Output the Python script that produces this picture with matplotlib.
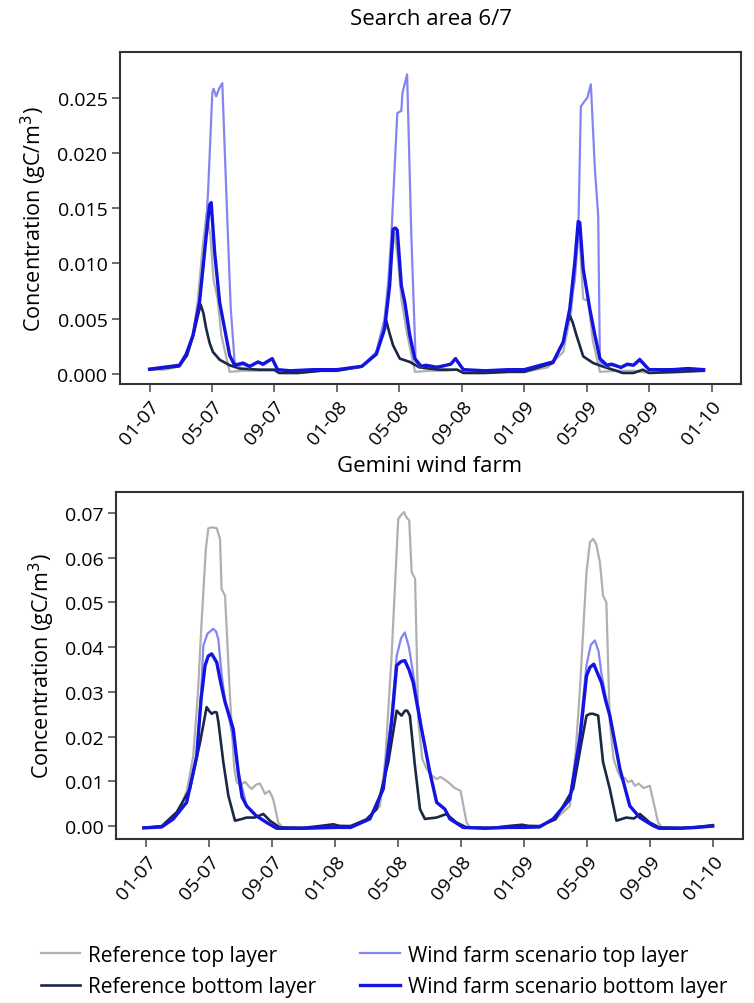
import numpy as np
import matplotlib
matplotlib.use("Agg")
import matplotlib.pyplot as plt

plt.rcParams['font.family'] = ['Open Sans', 'DejaVu Sans']

# x positions are months since Jan 2007
tick_months = [0, 4, 8, 12, 16, 20, 24, 28, 32, 36]
tick_labels = ['01-07', '05-07', '09-07', '01-08', '05-08', '09-08',
               '01-09', '05-09', '09-09', '01-10']

labels = ['Reference top layer', 'Reference bottom layer',
          'Wind farm scenario top layer', 'Wind farm scenario bottom layer']

# ---- Search area 6/7 ----
sa_ref_top_m = [0, 1.0, 1.9, 2.4, 2.8, 3.1, 3.4, 3.65, 3.9, 4.1, 4.36, 4.6, 5.13, 6.0, 7.0, 8.0, 8.3, 9.5, 11.0,
                12.0, 13.5, 14.5, 15.0, 15.3, 15.5, 15.7, 15.9, 16.13, 16.45, 17.0, 18.0, 19.0, 19.7, 20.2, 21.5, 23.0,
                24.0, 25.5, 26.5, 27.0, 27.25, 27.46, 27.6, 27.78, 28.1, 28.4, 28.85, 30.0, 31.0, 32.0, 33.5, 35.5]
sa_ref_top_v = [0.0004, 0.0004, 0.0007, 0.0017, 0.0036, 0.0068, 0.0115, 0.0145, 0.0125, 0.0085, 0.0068, 0.0035, 0.0002, 0.0003, 0.0003, 0.0003, 0.0001, 0.0001, 0.0003,
                0.0003, 0.0006, 0.0018, 0.0045, 0.0075, 0.0105, 0.0128, 0.0105, 0.0068, 0.004, 0.0002, 0.0003, 0.0003, 0.0004, 0.0001, 0.0001, 0.0002,
                0.0002, 0.0006, 0.002, 0.0055, 0.0095, 0.0134, 0.011, 0.0068, 0.0066, 0.003, 0.0002, 0.0003, 0.0003, 0.0001, 0.0001, 0.0003]

sa_ref_bot_m = [0, 1.9, 2.4, 2.8, 3.05, 3.27, 3.45, 3.63, 3.85, 4.06, 4.49, 5.13, 5.77, 7.0, 8.0, 8.3, 9.5, 11.0,
                12.0, 13.6, 14.5, 14.9, 15.17, 15.35, 15.6, 16.03, 16.67, 17.3, 18.5, 19.7, 20.1, 21.5, 23.0,
                24.0, 25.85, 26.5, 26.75, 26.92, 27.1, 27.35, 27.78, 28.42, 29.0, 29.9, 30.3, 31.0, 31.6, 32.0, 33.5, 35.5]
sa_ref_bot_v = [0.0004, 0.0007, 0.0017, 0.0035, 0.005, 0.0063, 0.0055, 0.0041, 0.0028, 0.002, 0.0013, 0.0008, 0.0005, 0.0004, 0.0004, 0.0001, 0.0001, 0.0003,
                0.0003, 0.0007, 0.0018, 0.0035, 0.0048, 0.0038, 0.0026, 0.0014, 0.0011, 0.0006, 0.0004, 0.0004, 0.0001, 0.0001, 0.0002,
                0.0002, 0.001, 0.0029, 0.0045, 0.0053, 0.0047, 0.0035, 0.0016, 0.001, 0.0007, 0.0003, 0.0001, 0.0001, 0.0004, 0.0001, 0.0002, 0.0003]

sa_wf_top_m = [0, 1.92, 2.35, 2.78, 3.2, 3.5, 3.75, 4.02, 4.1, 4.27, 4.45, 4.66, 4.85, 5.02, 5.2, 5.45, 5.7, 5.98, 6.41, 6.95, 7.26, 7.5, 7.86, 8.2, 9.0, 10.5, 11.5,
               12.0, 13.6, 14.53, 15.06, 15.3, 15.49, 15.87, 16.13, 16.2, 16.5, 16.77, 17.05, 17.4, 17.7, 18.4, 19.0, 19.3, 19.6, 20.1, 21.5, 23.0,
               24.0, 25.85, 26.5, 26.9, 27.24, 27.46, 27.63, 27.88, 28.05, 28.27, 28.53, 28.74, 28.85, 29.3, 29.6, 30.2, 30.6, 31.0, 31.4, 32.0, 33.5, 34.5, 35.5]
sa_wf_top_v = [0.00045, 0.0008, 0.0018, 0.0035, 0.0065, 0.0105, 0.0165, 0.0254, 0.0258, 0.0251, 0.0258, 0.0263, 0.019, 0.0125, 0.006, 0.0011, 0.0007, 0.0009, 0.0006, 0.0011, 0.0008, 0.001, 0.0014, 0.0004, 0.0003, 0.0004, 0.0004,
               0.0004, 0.0007, 0.002, 0.005, 0.0085, 0.0125, 0.0236, 0.0238, 0.0254, 0.0271, 0.0125, 0.0011, 0.0006, 0.0008, 0.0007, 0.0008, 0.0009, 0.0014, 0.0004, 0.0003, 0.0004,
               0.0004, 0.0011, 0.0029, 0.0055, 0.0085, 0.0125, 0.0242, 0.0247, 0.025, 0.0262, 0.0185, 0.0143, 0.0011, 0.0007, 0.0008, 0.0006, 0.0008, 0.0008, 0.0014, 0.0004, 0.0004, 0.0005, 0.0004]

sa_wf_bot_m = [0, 1.92, 2.35, 2.78, 3.2, 3.63, 3.85, 3.95, 4.17, 4.49, 4.81, 5.13, 5.45, 5.98, 6.41, 6.95, 7.26, 7.86, 8.2, 9.0, 10.5, 11.5,
               12.0, 13.6, 14.53, 15.06, 15.38, 15.6, 15.75, 15.87, 16.13, 16.35, 16.67, 16.99, 17.4, 17.7, 18.4, 19.0, 19.3, 19.6, 20.1, 21.5, 23.0,
               24.0, 25.85, 26.5, 26.92, 27.24, 27.46, 27.56, 27.78, 28.2, 28.53, 28.85, 29.3, 29.6, 30.2, 30.6, 31.0, 31.4, 32.0, 33.5, 34.5, 35.5]
sa_wf_bot_v = [0.00045, 0.0008, 0.0018, 0.0035, 0.0065, 0.0125, 0.0153, 0.0155, 0.011, 0.0065, 0.0041, 0.0017, 0.0008, 0.001, 0.0007, 0.0011, 0.0009, 0.0014, 0.0004, 0.0003, 0.0004, 0.0004,
               0.0004, 0.0007, 0.0018, 0.0041, 0.008, 0.0131, 0.0132, 0.013, 0.008, 0.0065, 0.0035, 0.0014, 0.0007, 0.0008, 0.0006, 0.0008, 0.0009, 0.0014, 0.0004, 0.0003, 0.0004,
               0.0004, 0.0011, 0.0029, 0.0059, 0.0101, 0.0138, 0.0137, 0.0095, 0.0059, 0.0035, 0.0014, 0.0008, 0.0009, 0.0006, 0.0009, 0.0008, 0.0013, 0.0004, 0.0004, 0.0005, 0.0004]

# ---- Gemini wind farm ----
gm_ref_top_m = [-0.15, 1.0, 2.16, 2.6, 3.0, 3.3, 3.53, 3.8, 3.96, 4.2, 4.49, 4.7, 4.8, 5.02, 5.33, 5.6, 5.76, 6.0, 6.29, 6.5, 6.71, 7.0, 7.24, 7.45, 7.56, 7.83, 8.08, 8.4, 8.7, 10.0, 11.0,
                12.0, 13.0, 14.0, 14.86, 15.2, 15.6, 16.02, 16.2, 16.38, 16.55, 16.72, 16.87, 17.09, 17.3, 17.55, 17.82, 18.1, 18.46, 18.7, 19.09, 19.3, 19.6, 19.98, 20.36, 20.6, 22.0, 23.0,
                24.0, 25.0, 26.0, 26.92, 27.3, 27.56, 27.98, 28.2, 28.4, 28.6, 28.83, 29.03, 29.24, 29.46, 29.7, 29.99, 30.2, 30.4, 30.62, 30.85, 31.05, 31.3, 31.6, 32.0, 32.53, 32.8, 34.0, 35.0, 36.0]
gm_ref_top_v = [-0.0004, 0.0, 0.0038, 0.008, 0.0157, 0.03, 0.0456, 0.062, 0.0666, 0.0668, 0.0666, 0.0642, 0.053, 0.0515, 0.0291, 0.013, 0.0098, 0.0092, 0.0099, 0.009, 0.0083, 0.0093, 0.0095, 0.008, 0.0072, 0.0079, 0.006, 0.0008, -0.0004, -0.0004, -0.0002,
                0.0002, 0.0, 0.0015, 0.0045, 0.015, 0.0381, 0.0687, 0.0695, 0.0702, 0.069, 0.0683, 0.0568, 0.0553, 0.0232, 0.015, 0.0128, 0.0115, 0.0105, 0.011, 0.0101, 0.0095, 0.0085, 0.0079, 0.0008, -0.0004, -0.0004, 0.0,
                0.0002, 0.0, 0.0015, 0.0045, 0.017, 0.0306, 0.0568, 0.0635, 0.0642, 0.063, 0.059, 0.0515, 0.05, 0.0232, 0.015, 0.012, 0.0105, 0.0108, 0.0098, 0.0102, 0.009, 0.0095, 0.0085, 0.009, 0.0008, -0.0004, -0.0004, -0.0002, 0.0]

gm_ref_bot_m = [-0.15, 1.0, 1.95, 2.79, 3.43, 3.85, 4.0, 4.17, 4.35, 4.49, 4.6, 4.91, 5.23, 5.65, 6.0, 6.39, 6.9, 7.45, 7.87, 8.5, 10.0, 11.0, 11.9,
                12.3, 13.0, 14.0, 14.65, 15.39, 15.92, 16.23, 16.45, 16.59, 16.76, 17.08, 17.4, 17.71, 18.45, 19.09, 19.72, 20.36, 22.0, 23.0, 23.9,
                24.3, 25.0, 26.0, 27.13, 27.66, 27.98, 28.2, 28.4, 28.72, 29.03, 29.46, 29.88, 30.5, 31.0, 31.37, 32.0, 32.6, 34.0, 35.0, 36.0]
gm_ref_bot_v = [-0.0004, 0.0, 0.0031, 0.0083, 0.0187, 0.0266, 0.0258, 0.0251, 0.0255, 0.0254, 0.0232, 0.0143, 0.0068, 0.0012, 0.0015, 0.0019, 0.0019, 0.0027, 0.0012, -0.0003, -0.0004, 0.0, 0.0004,
                0.0, 0.0, 0.0015, 0.0038, 0.0143, 0.0258, 0.0247, 0.0258, 0.0258, 0.0247, 0.0135, 0.0038, 0.0016, 0.0019, 0.0027, 0.0008, -0.0003, -0.0004, 0.0, 0.0003,
                0.0, 0.0, 0.0015, 0.0083, 0.0187, 0.0247, 0.0251, 0.0251, 0.0247, 0.0143, 0.0083, 0.0012, 0.0019, 0.0017, 0.0027, 0.0008, -0.0003, -0.0004, -0.0002, 0.0002]

gm_wf_top_m = [-0.15, 1.0, 1.73, 2.58, 3.22, 3.5, 3.64, 3.9, 4.27, 4.45, 4.59, 4.8, 5.02, 5.33, 5.6, 5.86, 6.39, 7.0, 7.66, 8.3, 10.0,
               12.0, 13.0, 14.22, 15.07, 15.6, 15.92, 16.2, 16.44, 16.7, 16.97, 17.5, 18.03, 18.46, 18.98, 19.3, 20.14, 21.5, 23.0,
               24.0, 25.0, 25.86, 26.92, 27.56, 27.98, 28.25, 28.51, 28.75, 28.93, 29.2, 29.46, 30.1, 30.73, 31.37, 32.2, 32.6, 34.0, 35.0, 36.0]
gm_wf_top_v = [-0.0004, -0.0002, 0.0016, 0.0053, 0.0157, 0.03, 0.0403, 0.043, 0.0441, 0.0435, 0.0418, 0.034, 0.028, 0.0232, 0.018, 0.012, 0.0045, 0.0023, 0.0008, -0.0005, -0.0005,
               -0.0003, -0.0003, 0.0016, 0.0083, 0.025, 0.038, 0.042, 0.0433, 0.04, 0.034, 0.022, 0.012, 0.0053, 0.0038, 0.0016, -0.0003, -0.0005, -0.0003,
               -0.0003, -0.0002, 0.0016, 0.006, 0.021, 0.036, 0.0405, 0.0415, 0.039, 0.034, 0.029, 0.025, 0.0128, 0.0045, 0.0019, 0.0001, -0.0005, -0.0005, -0.0003, 0.0]

gm_wf_bot_m = [-0.15, 1.0, 1.73, 2.58, 3.22, 3.5, 3.75, 3.95, 4.17, 4.49, 4.75, 5.02, 5.3, 5.54, 5.86, 6.1, 6.39, 7.0, 7.66, 8.3, 10.0,
               12.0, 13.0, 14.22, 15.07, 15.6, 15.92, 16.2, 16.44, 16.7, 16.97, 17.5, 18.03, 18.46, 18.98, 19.3, 20.14, 21.5, 23.0,
               24.0, 25.0, 25.86, 26.92, 27.56, 27.98, 28.2, 28.44, 28.7, 28.93, 29.2, 29.46, 30.1, 30.73, 31.37, 32.2, 32.6, 34.0, 35.0, 36.0]
gm_wf_bot_v = [-0.0004, -0.0002, 0.0016, 0.0053, 0.0157, 0.0285, 0.0359, 0.038, 0.0385, 0.0366, 0.032, 0.0277, 0.0245, 0.0217, 0.012, 0.0065, 0.0045, 0.0023, 0.0008, -0.0005, -0.0005,
               -0.0003, -0.0003, 0.0016, 0.0083, 0.0232, 0.0359, 0.0368, 0.037, 0.035, 0.0321, 0.0217, 0.012, 0.0053, 0.0038, 0.0016, -0.0003, -0.0005, -0.0003,
               -0.0003, -0.0002, 0.0016, 0.006, 0.0195, 0.0336, 0.0355, 0.0362, 0.034, 0.0321, 0.028, 0.0247, 0.0128, 0.0045, 0.0019, 0.0001, -0.0005, -0.0005, -0.0003, 0.0]

colors = ['#b0b0b0', '#1b2845', '#8585f2', '#1414e0']
widths = [1.6, 1.9, 1.6, 2.4]


def draw(ax, series, title, yticks, yfmt, ylim, title_pad):
    for (m, v), c, lw, lab in zip(series, colors, widths, labels):
        ax.plot(m, v, color=c, lw=lw, label=lab, solid_joinstyle='round')
    ax.set_xlim(-1.9, 37.9)
    ax.set_ylim(*ylim)
    ax.set_yticks(yticks)
    ax.set_yticklabels([yfmt.format(t) for t in yticks])
    ax.set_xticks(tick_months)
    ax.set_xticklabels(tick_labels, rotation=50, ha='right', rotation_mode='anchor')
    ax.tick_params(labelsize=14, length=6, width=1.1, color='#444444', pad=3)
    for s in ax.spines.values():
        s.set_color('#333333')
        s.set_linewidth(1.5)
    ax.set_ylabel('Concentration (gC/m$^3$)', fontsize=15.5, labelpad=6)
    ax.set_title(title, fontsize=16, pad=title_pad)


fig = plt.figure(figsize=(7.54, 10.04), dpi=100)
ax1 = fig.add_axes([0.159, 0.6165, 0.824, 0.3305])
ax2 = fig.add_axes([0.154, 0.1633, 0.831, 0.3457])

draw(ax1, [(sa_ref_top_m, sa_ref_top_v), (sa_ref_bot_m, sa_ref_bot_v),
           (sa_wf_top_m, sa_wf_top_v), (sa_wf_bot_m, sa_wf_bot_v)],
     'Search area 6/7', [0, 0.005, 0.01, 0.015, 0.02, 0.025], '{:.3f}', (-0.0009, 0.0291), 20)
draw(ax2, [(gm_ref_top_m, gm_ref_top_v), (gm_ref_bot_m, gm_ref_bot_v),
           (gm_wf_top_m, gm_wf_top_v), (gm_wf_bot_m, gm_wf_bot_v)],
     'Gemini wind farm', [0, 0.01, 0.02, 0.03, 0.04, 0.05, 0.06, 0.07], '{:.2f}', (-0.0029, 0.0747), 15)

h, l = ax2.get_legend_handles_labels()
fig.legend(h, l, ncol=2, loc='center left', bbox_to_anchor=(0.04, 0.032), frameon=False,
           fontsize=15, handlelength=1.9, handletextpad=0.4, columnspacing=2.1,
           labelspacing=0.5, borderpad=0)

fig.savefig('out.png', dpi=100)
